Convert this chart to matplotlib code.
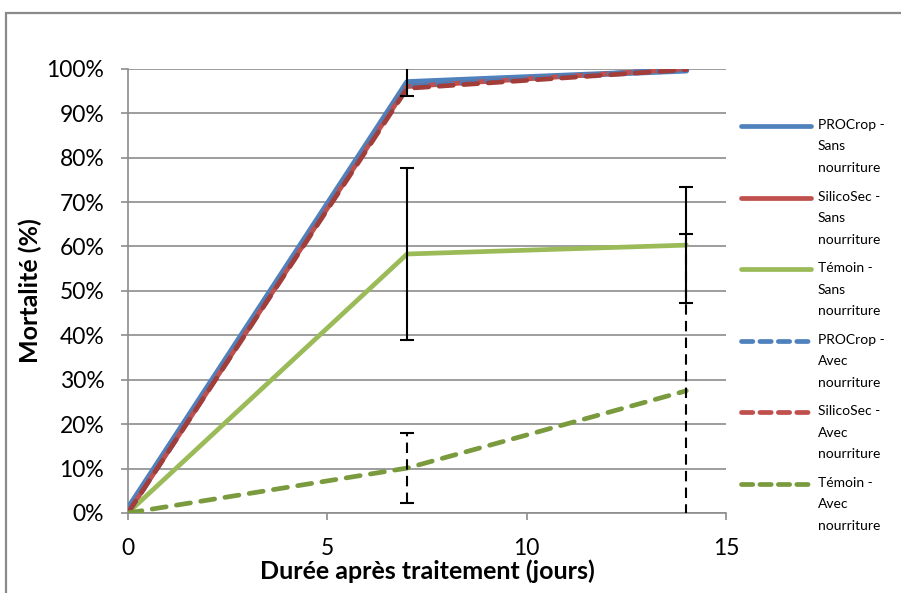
"""Mortalité au cours du temps: PROCrop / SilicoSec / Témoin, avec et sans nourriture."""
import matplotlib
matplotlib.use("Agg")
import matplotlib.pyplot as plt
from matplotlib.lines import Line2D
from matplotlib.patches import Rectangle
import numpy as np

plt.rcParams["font.family"] = ["Lato", "DejaVu Sans"]

days = [0, 7, 14]

procrop_sans = [1.0, 97.0, 99.6]
silicosec_sans = [0.0, 96.0, 100.0]
temoin_sans = [0.0, 58.3, 60.3]
procrop_avec = [0.0, 96.0, 100.0]
silicosec_avec = [0.0, 95.6, 99.8]
temoin_avec = [0.0, 10.1, 27.5]

# erreurs (0 = pas de barre)
err_procrop_sans = [0.0, 3.2, 0.0]
err_temoin_sans = [0.0, 19.4, 13.1]
err_temoin_avec = [0.0, 7.8, 35.3]

labels = [
    "PROCrop -\nSans\nnourriture",
    "SilicoSec -\nSans\nnourriture",
    "Témoin -\nSans\nnourriture",
    "PROCrop -\nAvec\nnourriture",
    "SilicoSec -\nAvec\nnourriture",
    "Témoin -\nAvec\nnourriture",
]

BLUE = "#4F81BD"
RED = "#C0504D"
GREEN = "#9BBB59"
BLUE_D = "#4A7EBB"
RED_D = "#A33D3A"
GREEN_D = "#7A9A3E"
GRID = "#8C8C8C"

fig = plt.figure(figsize=(9.01, 5.93), dpi=100)
ax = fig.add_axes([0.142, 0.135, 0.664, 0.749])

series = [
    (procrop_sans, BLUE, "-", 4.2),
    (silicosec_sans, RED, "-", 3.4),
    (temoin_sans, GREEN, "-", 3.4),
    (procrop_avec, BLUE_D, "--", 3.4),
    (silicosec_avec, RED_D, "--", 3.4),
    (temoin_avec, GREEN_D, "--", 3.4),
]
for vals, col, ls, lw in series:
    ln, = ax.plot(days, vals, color=col, lw=lw, ls=ls, solid_capstyle="round",
                  dash_capstyle="round", zorder=3)
    if ls == "--":
        ln.set_dashes((3.0, 2.2))


def draw_err(vals, err, dashed):
    x = np.array(days, dtype=float)
    y = np.array(vals)
    e = np.array(err)
    m = e > 0
    _, caps, bars = ax.errorbar(x[m], y[m], yerr=e[m], fmt="none", ecolor="black",
                                elinewidth=1.5, capsize=5, capthick=1.5, zorder=4)
    if dashed:
        for b in bars:
            b.set_linestyle((0, (5, 3)))


draw_err(procrop_sans, err_procrop_sans, False)
draw_err(temoin_sans, err_temoin_sans, False)
draw_err(temoin_avec, err_temoin_avec, True)

ax.set_xlim(0, 15)
ax.set_ylim(0, 100)
ax.set_xticks([0, 5, 10, 15])
ax.set_yticks(np.arange(0, 101, 10))
ax.set_yticklabels([f"{v}%" for v in range(0, 101, 10)])
ax.tick_params(axis="both", labelsize=16.5, color=GRID, width=1.2, length=5)
ax.tick_params(axis="x", pad=13)
ax.tick_params(axis="y", pad=12)
ax.grid(axis="y", color=GRID, lw=1.2)
ax.set_axisbelow(True)
for s in ["top", "right"]:
    ax.spines[s].set_visible(False)
for s in ["left", "bottom"]:
    ax.spines[s].set_color(GRID)
    ax.spines[s].set_linewidth(1.2)

ax.set_xlabel("Durée après traitement (jours)", fontsize=18, fontweight="bold", labelpad=0)
ax.set_ylabel("Mortalité (%)", fontsize=18, fontweight="bold", labelpad=3)

# légende à droite, repère aligné sur la première ligne
handles = [(BLUE, "-"), (RED, "-"), (GREEN, "-"), (BLUE, "--"), (RED, "--"), (GREEN_D, "--")]
y0 = 1 - 126 / 593
step = 71.6 / 593
for i, ((col, ls), lab) in enumerate(zip(handles, labels)):
    y = y0 - i * step
    ln = Line2D([741 / 901, 811 / 901], [y, y], transform=fig.transFigure, color=col,
                lw=3.4, ls=ls, solid_capstyle="round", dash_capstyle="round")
    if ls == "--":
        ln.set_dashes((2.4, 1.5))
    fig.add_artist(ln)
    fig.text(818 / 901, y + 7 / 593, lab, fontsize=10, va="top", ha="left",
             linespacing=1.95)

# cadre du graphique
fig.add_artist(Rectangle((6 / 901, -0.1), 1.2, 0.1 + (593 - 13) / 593,
                         transform=fig.transFigure, fill=False, ec="#8A8A8A", lw=1.6))

fig.savefig("out.png", dpi=100)
